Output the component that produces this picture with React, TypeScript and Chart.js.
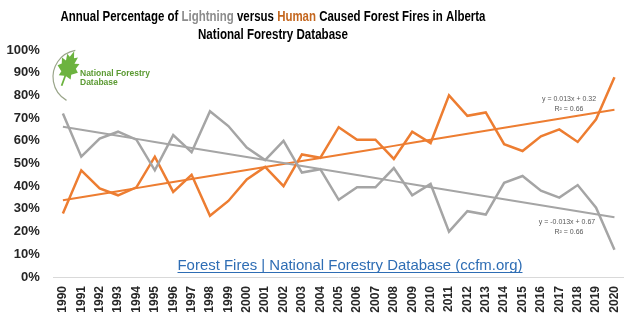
import React, { useEffect, useRef } from "react";
import { Chart, registerables } from "chart.js";

Chart.register(...registerables);

const years: string[] = [
  "1990", "1991", "1992", "1993", "1994", "1995", "1996", "1997", "1998", "1999",
  "2000", "2001", "2002", "2003", "2004", "2005", "2006", "2007", "2008", "2009",
  "2010", "2011", "2012", "2013", "2014", "2015", "2016", "2017", "2018", "2019", "2020",
];

const lightningPct: number[] = [
  72, 53, 61, 64, 60.5, 47, 62.5, 55, 73, 66.5,
  57, 51.5, 60, 46, 47.5, 34, 39.5, 39.5, 48, 36,
  41, 20, 29, 27.5, 41.5, 44.5, 38, 35, 40.5, 30.5, 12,
];

const humanPct: number[] = [
  28, 47, 39, 36, 39.5, 53, 37.5, 45, 27, 33.5,
  43, 48.5, 40, 54, 52.5, 66, 60.5, 60.5, 52, 64,
  59, 80, 71, 72.5, 58.5, 55.5, 62, 65, 59.5, 69.5, 88,
];

const yTicks: number[] = [0, 10, 20, 30, 40, 50, 60, 70, 80, 90, 100];

const humanTrendText = ["y = 0.013x + 0.32", "R\u00B2 = 0.66"];
const lightningTrendText = ["y = -0.013x + 0.67", "R\u00B2 = 0.66"];

const titleLine1: [string, string][] = [
  ["Annual Percentage of ", "#000000"],
  ["Lightning", "#8c8c8c"],
  [" versus ", "#000000"],
  ["Human", "#c4671f"],
  [" Caused Forest Fires in Alberta", "#000000"],
];
const titleLine2 = "National Forestry Database";
const linkText = "Forest Fires | National Forestry Database (ccfm.org)";

const ORANGE = "#ED7D31";
const GRAY = "#A5A5A5";
const SANS = '"Liberation Sans", Arial, sans-serif';

function linearTrend(values: number[]): number[] {
  const n = values.length;
  let sx = 0, sy = 0, sxy = 0, sxx = 0;
  values.forEach((v, i) => {
    const x = i + 1;
    sx += x; sy += v; sxy += x * v; sxx += x * x;
  });
  const b = (n * sxy - sx * sy) / (n * sxx - sx * sx);
  const a = (sy - b * sx) / n;
  return values.map((_, i) => a + b * (i + 1));
}

// Draw multi-coloured text, horizontally condensed to a target width, centred on cx.
function drawCondensed(
  ctx: CanvasRenderingContext2D,
  parts: [string, string][],
  cx: number,
  y: number,
  font: string,
  targetWidth: number
) {
  ctx.save();
  ctx.font = font;
  const full = parts.map(([t]) => t).join("");
  const w = ctx.measureText(full).width;
  const sx = targetWidth / w;
  ctx.translate(cx, y);
  ctx.scale(sx, 1);
  ctx.textAlign = "left";
  let x = -w / 2;
  for (const [t, c] of parts) {
    ctx.fillStyle = c;
    ctx.fillText(t, x, 0);
    x += ctx.measureText(t).width;
  }
  ctx.restore();
}

const overlayPlugin = {
  id: "overlay",
  afterDraw(chart: any) {
    const ctx: CanvasRenderingContext2D = chart.ctx;
    ctx.save();
    // Title
    ctx.textBaseline = "middle";
    drawCondensed(ctx, titleLine1, 273, 17, `bold 15px ${SANS}`, 425);
    drawCondensed(ctx, [[titleLine2, "#000000"]], 273, 35, `bold 15px ${SANS}`, 150);

    // Logo arc
    ctx.strokeStyle = "#9aa58a";
    ctx.lineWidth = 1.2;
    ctx.beginPath();
    ctx.arc(80, 77, 27, (-100 * Math.PI) / 180, (120 * Math.PI) / 180, true);
    ctx.stroke();
    // Leaf
    const leaf = [
      [0, -1], [0.15, -0.68], [0.38, -0.78], [0.3, -0.45], [0.62, -0.52], [0.5, -0.25],
      [0.72, -0.1], [0.35, 0.1], [0.42, 0.32], [0.06, 0.25], [0.06, 0.75], [-0.06, 0.75],
      [-0.06, 0.25], [-0.42, 0.32], [-0.35, 0.1], [-0.72, -0.1], [-0.5, -0.25], [-0.62, -0.52],
      [-0.3, -0.45], [-0.38, -0.78], [-0.15, -0.68],
    ];
    const ang = (20 * Math.PI) / 180;
    ctx.fillStyle = "#6cb33f";
    ctx.beginPath();
    leaf.forEach(([px, py], i) => {
      const qx = px * 15;
      const qy = py * 21;
      const X = 67 + qx * Math.cos(ang) - qy * Math.sin(ang);
      const Y = 71 + qx * Math.sin(ang) + qy * Math.cos(ang);
      if (i === 0) ctx.moveTo(X, Y); else ctx.lineTo(X, Y);
    });
    ctx.closePath();
    ctx.fill();
    ctx.fillStyle = "#5b9a32";
    ctx.font = `bold 8.5px ${SANS}`;
    ctx.textAlign = "left";
    ctx.fillText("National Forestry", 80, 74);
    ctx.fillText("Database", 80, 83);

    // Trend labels
    ctx.fillStyle = "#595959";
    ctx.font = `7px ${SANS}`;
    ctx.textAlign = "center";
    ctx.fillText(humanTrendText[0], 569, 99);
    ctx.fillText(humanTrendText[1], 569, 109);
    ctx.fillText(lightningTrendText[0], 567, 222);
    ctx.fillText(lightningTrendText[1], 569, 232);

    // Link text
    ctx.textBaseline = "alphabetic";
    drawCondensed(ctx, [[linkText, "#2e6db4"]], 350, 270, `normal 15px ${SANS}`, 345);
    ctx.strokeStyle = "#2e6db4";
    ctx.lineWidth = 1;
    ctx.beginPath();
    ctx.moveTo(350 - 345 / 2, 272.5);
    ctx.lineTo(350 + 345 / 2, 272.5);
    ctx.stroke();
    ctx.restore();
  },
};

export default function App() {
  const ref = useRef<HTMLCanvasElement>(null);
  useEffect(() => {
    if (!ref.current) return;
    const humanTrend = linearTrend(humanPct);
    const lightningTrend = linearTrend(lightningPct);
    const chart = new Chart(ref.current, {
      type: "line",
      data: {
        labels: years,
        datasets: [
          { data: lightningPct, borderColor: GRAY, borderWidth: 2.5, pointRadius: 0, tension: 0 },
          { data: humanPct, borderColor: ORANGE, borderWidth: 2.5, pointRadius: 0, tension: 0 },
          { data: lightningTrend, borderColor: GRAY, borderWidth: 2, pointRadius: 0, tension: 0 },
          { data: humanTrend, borderColor: ORANGE, borderWidth: 2, pointRadius: 0, tension: 0 },
        ],
      },
      options: {
        responsive: false,
        animation: false,
        events: [],
        layout: { padding: { top: 50, right: 8.7, left: 0, bottom: 0 } },
        plugins: { legend: { display: false }, tooltip: { enabled: false }, title: { display: false } },
        scales: {
          x: {
            offset: true,
            grid: { display: false, drawTicks: false },
            border: { display: true, color: "#d9d9d9", width: 1 },
            ticks: {
              minRotation: 90,
              maxRotation: 90,
              autoSkip: false,
              padding: 9,
              color: "#262626",
              font: { family: SANS, size: 12, weight: "bold" },
            },
            afterFit: (s: any) => { s.height = 49; },
          },
          y: {
            min: 0,
            max: 100,
            afterBuildTicks: (s: any) => { s.ticks = yTicks.map((v) => ({ value: v })); },
            grid: { display: false, drawTicks: false },
            border: { display: false },
            ticks: {
              padding: 14,
              color: "#262626",
              font: { family: SANS, size: 13, weight: "bold" },
              callback: (v: any) => `${v}%`,
            },
            afterFit: (s: any) => { s.width = 53.7; },
          },
        },
      },
      plugins: [overlayPlugin],
    });
    return () => chart.destroy();
  }, []);
  return (
    <div style={{ position: "absolute", left: 0, top: 0, width: 638, height: 326, background: "#fff" }}>
      <canvas ref={ref} width={638} height={326} />
    </div>
  );
}
